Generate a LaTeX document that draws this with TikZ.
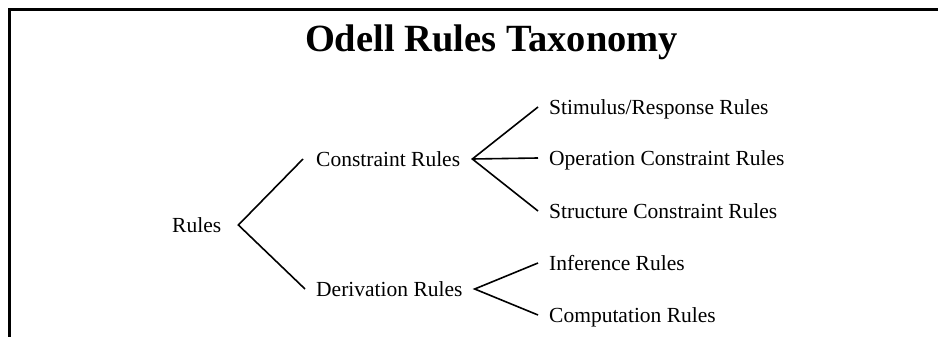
\documentclass[tikz,border=0pt]{standalone}
\usepackage{fontspec}
\setmainfont{Liberation Serif}
\usetikzlibrary{calc}
\begin{document}
\begin{tikzpicture}[x=1pt,y=-1pt,
  lbl/.style={font=\fontsize{21.5}{24}\selectfont, anchor=base west,
              inner sep=0pt, text height=14pt, text depth=0pt},
  branch/.style={line width=1.6pt, line join=miter},
  frame/.style={line width=3pt, line join=miter}]
\useasboundingbox (0,0) rectangle (938,337);
% frame edges
\draw[frame] (938,10) -- (9,10) -- (9,337);
% heading
\node[font=\bfseries\fontsize{38.5}{42}\selectfont, anchor=base, inner sep=0pt]
  (title) at (491.5,52) {Odell Rules Taxonomy};
% taxonomy labels
\node[lbl] (rules) at (172,232) {Rules};
\node[lbl] (cons)  at (316,166) {Constraint Rules};
\node[lbl] (deriv) at (316,296) {Derivation Rules};
\node[lbl] (stim)  at (549,114) {Stimulus/Response Rules};
\node[lbl] (oper)  at (549,165) {Operation Constraint Rules};
\node[lbl] (struc) at (549,218) {Structure Constraint Rules};
\node[lbl] (infer) at (549,270) {Inference Rules};
\node[lbl] (comp)  at (549,322) {Computation Rules};
% fork points
\coordinate (rfork) at ($(rules.east)+(17,0)$);
\coordinate (cfork) at ($(cons.east)+(12,0)$);
\coordinate (dfork) at ($(deriv.east)+(12,0)$);
% branches
\draw[branch] ([xshift=-13pt]cons.west) -- (rfork) -- ([xshift=-11pt]deriv.west);
\draw[branch] ([xshift=-11pt]stim.west) -- (cfork) -- ([xshift=-11pt]struc.west);
\draw[branch] (cfork) -- ([xshift=-11pt]oper.west);
\draw[branch] ([xshift=-11pt]infer.west) -- (dfork) -- ([xshift=-11pt]comp.west);
\end{tikzpicture}
\end{document}
